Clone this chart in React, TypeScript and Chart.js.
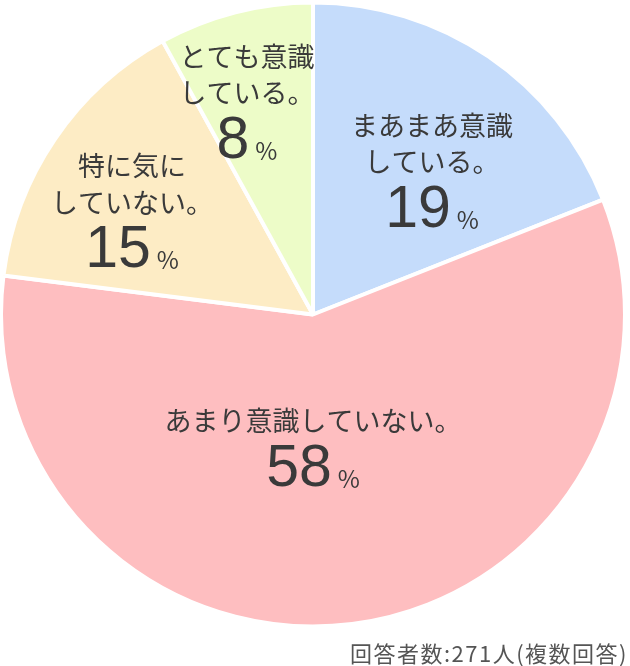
import React, { useEffect, useRef } from "react";
import { Chart, registerables } from "chart.js";

Chart.register(...registerables);

const categories = ["まあまあ意識している。", "あまり意識していない。", "特に気にしていない。", "とても意識している。"];
const values = [19, 58, 15, 8];
const colors = ["#c5dcfb", "#febec0", "#fdecc5", "#edfcc8"];
const labelLines = [["まあまあ意識", "している。"], ["あまり意識していない。"], ["特に気に", "していない。"], ["とても意識", "している。"]];
const footerText = "回答者数:271人(複数回答)";

// label anchor offsets from pie centre (px): [x, firstLineY, lineGap, numberY]
const labelLayout = [
  [119, -189, 36, -104],
  [0, 106, 0, 155],
  [-181, -149, 37, -64],
  [-66, -258, 36, -173],
];

const labelPlugin = {
  id: "sliceLabels",
  afterDatasetsDraw(chart: any) {
    const ctx = chart.ctx;
    const meta = chart.getDatasetMeta(0);
    const arc0 = meta.data[0];
    if (!arc0) return;
    const cx = arc0.x;
    const cy = arc0.y;
    ctx.save();
    ctx.fillStyle = "#3a3a3a";
    ctx.textBaseline = "middle";
    ctx.textAlign = "center";
    meta.data.forEach((_: any, i: number) => {
      const [dx, y0, gap, ny] = labelLayout[i];
      const lines = labelLines[i];
      ctx.font = '27px "Noto Sans CJK JP"';
      lines.forEach((ln, j) => {
        ctx.fillText(ln, cx + dx, cy + y0 + j * gap);
      });
      const num = String(values[i]);
      ctx.font = '59px "Liberation Sans"';
      const nw = ctx.measureText(num).width;
      ctx.font = '24px "Noto Sans CJK JP"';
      const pw = ctx.measureText("%").width;
      const total = nw + 6 + pw;
      const left = cx + dx - total / 2;
      ctx.textAlign = "left";
      ctx.font = '59px "Liberation Sans"';
      ctx.fillText(num, left, cy + ny);
      ctx.font = '24px "Noto Sans CJK JP"';
      ctx.fillText("%", left + nw + 6, cy + ny + 9);
      ctx.textAlign = "center";
    });
    ctx.font = '22px "Noto Sans CJK JP"';
    (ctx as any).letterSpacing = "1.5px";
    ctx.fillStyle = "#555555";
    ctx.textAlign = "right";
    ctx.fillText(footerText, 628, 654);
    ctx.restore();
  },
};

export default function App() {
  const ref = useRef<HTMLCanvasElement>(null);
  useEffect(() => {
    if (!ref.current) return;
    const chart = new Chart(ref.current, {
      type: "pie",
      data: {
        labels: categories,
        datasets: [
          {
            data: values,
            backgroundColor: colors,
            borderColor: "#ffffff",
            borderWidth: 4,
          },
        ],
      },
      options: {
        responsive: false,
        animation: false,
        radius: 312,
        layout: { padding: { left: 0, right: 4, top: 0, bottom: 37 } },
        plugins: {
          legend: { display: false },
          tooltip: { enabled: false },
        },
      } as any,
      plugins: [labelPlugin],
    });
    return () => chart.destroy();
  }, []);
  return (
    <div style={{ position: "absolute", left: 0, top: 0, width: 630, height: 666, background: "#fff" }}>
      <canvas ref={ref} width={630} height={666} style={{ display: "block" }} />
    </div>
  );
}
